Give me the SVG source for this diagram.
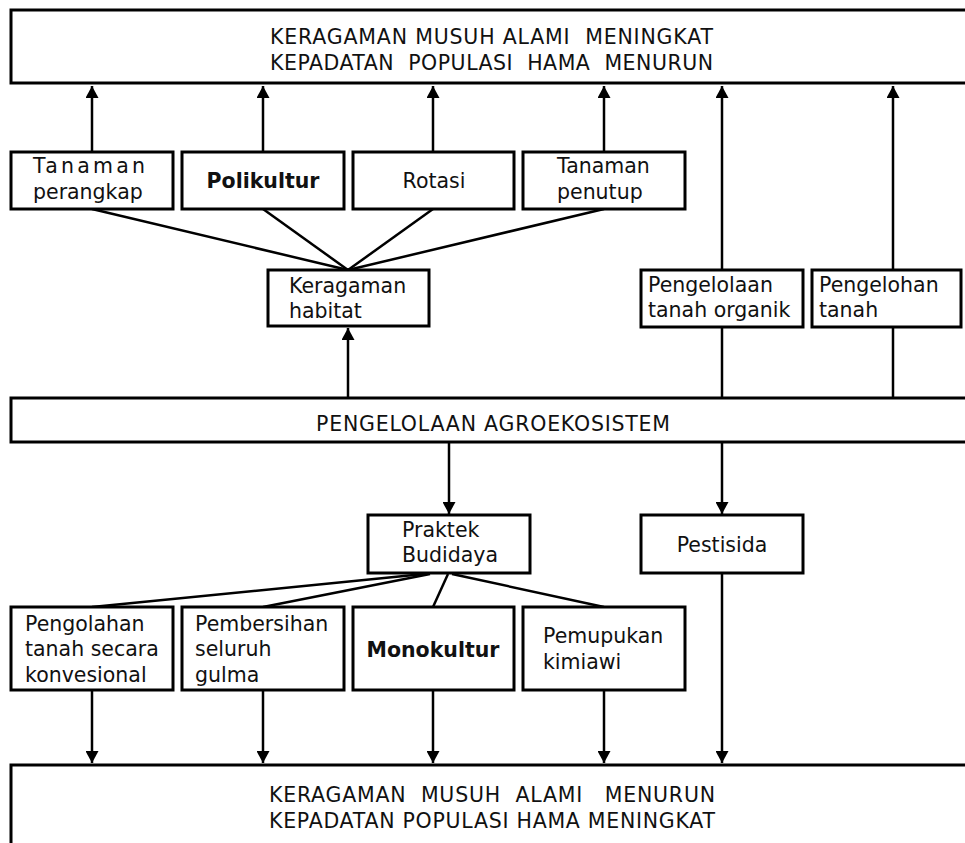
<svg xmlns="http://www.w3.org/2000/svg" width="965" height="843" viewBox="0 0 965 843">
<style>
.box{fill:#fff;stroke:#000;stroke-width:3}
.ln{stroke:#000;stroke-width:2.5;fill:none}
.arr{stroke:#000;stroke-width:2.5;fill:none;marker-end:url(#ah)}
text{font-family:"DejaVu Sans",Verdana,sans-serif;font-size:20.5px;fill:#111}
.b{font-weight:bold}
</style>
<defs>
<marker id="ah" markerUnits="userSpaceOnUse" markerWidth="13" markerHeight="13" refX="12" refY="6.5" orient="auto">
<path d="M0,0 L12,6.5 L0,13 z" fill="#000"/>
</marker>
</defs>
<rect width="965" height="843" fill="#fff"/>
<g id="connectors">
<line class="arr" x1="92" y1="152" x2="92" y2="86"/>
<line class="arr" x1="263" y1="152" x2="263" y2="86"/>
<line class="arr" x1="433" y1="152" x2="433" y2="86"/>
<line class="arr" x1="604" y1="152" x2="604" y2="86"/>
<line class="arr" x1="722" y1="270" x2="722" y2="86"/>
<line class="arr" x1="893" y1="270" x2="893" y2="86"/>
<line class="ln" x1="722" y1="398" x2="722" y2="327"/>
<line class="ln" x1="893" y1="398" x2="893" y2="327"/>
<line class="arr" x1="348" y1="398" x2="348" y2="328"/>
<line class="ln" x1="92" y1="209" x2="348" y2="270"/>
<line class="ln" x1="263" y1="209" x2="348" y2="270"/>
<line class="ln" x1="433" y1="209" x2="348" y2="270"/>
<line class="ln" x1="604" y1="209" x2="348" y2="270"/>
<line class="arr" x1="449" y1="442" x2="449" y2="514"/>
<line class="arr" x1="722" y1="442" x2="722" y2="514"/>
<line class="ln" x1="424" y1="574" x2="92" y2="607"/>
<line class="ln" x1="430" y1="574" x2="263" y2="607"/>
<line class="ln" x1="448" y1="574" x2="433" y2="607"/>
<line class="ln" x1="452" y1="574" x2="604" y2="607"/>
<line class="arr" x1="92" y1="690" x2="92" y2="763"/>
<line class="arr" x1="263" y1="690" x2="263" y2="763"/>
<line class="arr" x1="433" y1="690" x2="433" y2="763"/>
<line class="arr" x1="604" y1="690" x2="604" y2="763"/>
<line class="arr" x1="722" y1="573" x2="722" y2="763"/>
</g>
<g id="top-outcome">
<rect class="box" x="11" y="10" width="1000" height="73"/>
<text x="270" y="44" textLength="443" xml:space="preserve">KERAGAMAN MUSUH ALAMI  MENINGKAT</text>
<text x="270" y="70" textLength="443" xml:space="preserve">KEPADATAN  POPULASI  HAMA  MENURUN</text>
</g>
<g id="tanaman-perangkap">
<rect class="box" x="11" y="152" width="162" height="57"/>
<text x="33" y="173" textLength="112">Tanaman</text>
<text x="33" y="199">perangkap</text>
</g>
<g id="polikultur">
<rect class="box" x="182" y="152" width="162" height="57"/>
<text class="b" x="263" y="188" text-anchor="middle">Polikultur</text>
</g>
<g id="rotasi">
<rect class="box" x="353" y="152" width="161" height="57"/>
<text x="434" y="188" text-anchor="middle">Rotasi</text>
</g>
<g id="tanaman-penutup">
<rect class="box" x="523" y="152" width="162" height="57"/>
<text x="557" y="173">Tanaman</text>
<text x="557" y="199">penutup</text>
</g>
<g id="keragaman-habitat">
<rect class="box" x="268" y="270" width="161" height="56"/>
<text x="289" y="293">Keragaman</text>
<text x="289" y="318">habitat</text>
</g>
<g id="pengelolaan-tanah-organik">
<rect class="box" x="641" y="270" width="162" height="57"/>
<text x="648" y="292">Pengelolaan</text>
<text x="648" y="317">tanah organik</text>
</g>
<g id="pengelohan-tanah">
<rect class="box" x="812" y="270" width="149" height="57"/>
<text x="819" y="292">Pengelohan</text>
<text x="819" y="317">tanah</text>
</g>
<g id="pengelolaan-agroekosistem">
<rect class="box" x="11" y="398" width="1000" height="44"/>
<text x="316" y="431" textLength="354">PENGELOLAAN AGROEKOSISTEM</text>
</g>
<g id="praktek-budidaya">
<rect class="box" x="368" y="515" width="162" height="58"/>
<text x="402" y="537">Praktek</text>
<text x="402" y="562">Budidaya</text>
</g>
<g id="pestisida">
<rect class="box" x="641" y="515" width="162" height="58"/>
<text x="722" y="552" text-anchor="middle">Pestisida</text>
</g>
<g id="pengolahan-tanah">
<rect class="box" x="11" y="607" width="162" height="83"/>
<text x="25" y="631">Pengolahan</text>
<text x="25" y="656">tanah secara</text>
<text x="25" y="682">konvesional</text>
</g>
<g id="pembersihan-gulma">
<rect class="box" x="182" y="607" width="162" height="83"/>
<text x="195" y="631">Pembersihan</text>
<text x="195" y="656">seluruh</text>
<text x="195" y="682">gulma</text>
</g>
<g id="monokultur">
<rect class="box" x="353" y="607" width="161" height="83"/>
<text class="b" x="433" y="657" text-anchor="middle">Monokultur</text>
</g>
<g id="pemupukan-kimiawi">
<rect class="box" x="523" y="607" width="162" height="83"/>
<text x="543" y="643">Pemupukan</text>
<text x="543" y="669">kimiawi</text>
</g>
<g id="bottom-outcome">
<rect class="box" x="11" y="765" width="1000" height="100"/>
<text x="269" y="802" textLength="446" xml:space="preserve">KERAGAMAN  MUSUH  ALAMI   MENURUN</text>
<text x="269" y="828" textLength="446">KEPADATAN POPULASI HAMA MENINGKAT</text>
</g>
</svg>
